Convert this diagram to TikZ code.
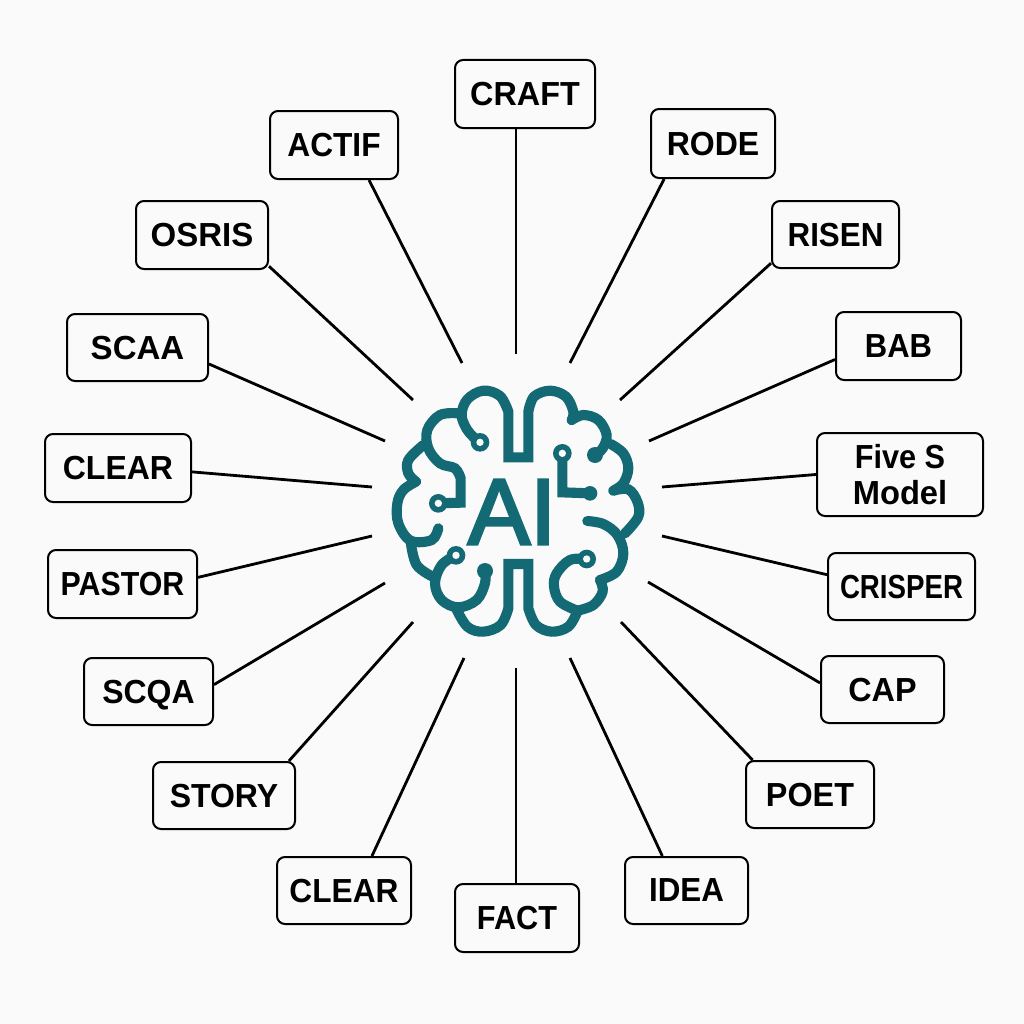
\documentclass[tikz,border=0pt]{standalone}
\usepackage{graphicx}
\usepackage{fontspec}
\setmainfont{Liberation Sans}
\newfontfamily\aifont[FakeBold=3]{Liberation Sans}
\definecolor{bgc}{HTML}{FAFAFA}
\definecolor{teal1}{HTML}{136A75}
\tikzset{
  lab/.style={draw=black,line width=1.5pt,rounded corners=6pt,fill=bgc,inner sep=0pt,align=center,
    font=\fontsize{25}{26.5}\selectfont\bfseries,text=black,anchor=center,text depth=0pt},
  wire/.style={draw=black,line width=2.1pt},
  brainline/.style={draw=teal1,line width=7.6pt,line cap=round,line join=miter},
  ringhole/.style={fill=bgc,draw=none},
  dotfill/.style={fill=teal1,draw=none}
}
\newcommand{\lbox}[7]{\node[lab,minimum width=#3*0.75pt,minimum height=#4*0.75pt] (#5) at (#1,#2) {\scalebox{#7}[1]{#6}};}
\begin{document}
\begin{tikzpicture}[x=0.75pt,y=-0.75pt]
\useasboundingbox (0,0) rectangle (1024,1024);
\fill[bgc] (0,0) rectangle (1024,1024);
% free ends
\foreach \n/\x/\y in {ecraft/516/354,eactif/462/363,erode/570/363,eosris/413/400,erisen/620/400,escaa/385/441,ebab/649/441,eclear/372/487,efive/662/487,epastor/372/536,ecrisper/662/536,escqa/385/583,ecap/648/582,estory/413/622,epoet/621/622,eclearb/464/658,eidea/570/658,efact/516/668}
  {\coordinate (\n) at (\x,\y);}
% boxes
\lbox{525}{94}{140}{68}{craft}{CRAFT}{0.97}
\lbox{334}{145}{128}{68}{actif}{ACTIF}{0.95}
\lbox{713}{143.5}{124}{69}{rode}{RODE}{0.96}
\lbox{202}{235}{132}{68}{osris}{OSRIS}{0.99}
\lbox{835.5}{234.5}{127}{67}{risen}{RISEN}{0.94}
\lbox{137.5}{347.5}{141}{67}{scaa}{SCAA}{0.99}
\lbox{898.5}{346}{125}{68}{bab}{BAB}{0.93}
\lbox{118}{468}{146}{68}{clear}{CLEAR}{0.96}
\node[lab,minimum width=166*0.75pt,minimum height=83*0.75pt] (five) at (900,474.5) {\scalebox{0.92}[1]{Five S}\\\scalebox{0.98}[1]{Model}};
\lbox{122.5}{584}{149}{68}{pastor}{PASTOR}{0.91}
\lbox{901.5}{586.5}{147}{67}{crisper}{CRISPER}{0.83}
\lbox{148.5}{691.5}{129}{67}{scqa}{SCQA}{0.96}
\lbox{882.5}{689.5}{123}{67}{cap}{CAP}{0.97}
\lbox{224}{795.5}{142}{67}{story}{STORY}{0.96}
\lbox{810}{794.5}{128}{67}{poet}{POET}{0.97}
\lbox{344}{890.5}{134}{67}{clearb}{CLEAR}{0.95}
\lbox{686.5}{890.5}{123}{67}{idea}{IDEA}{0.94}
\lbox{517}{918}{124}{68}{fact}{FACT}{0.92}
% connectors
\draw[wire] (ecraft |- craft.south) -- (ecraft);
\draw[wire] (actif.-45.9) -- (eactif);
\draw[wire] (rode.216.3) -- (erode);
\draw[wire] (osris.-25.2) -- (eosris);
\draw[wire] (risen.204.9) -- (erisen);
\draw[wire] (scaa.-13.2) -- (escaa);
\draw[wire] (bab.192.6) -- (ebab);
\draw[wire] (clear.-3.9) -- (eclear);
\draw[wire] (five.180) -- (efive);
\draw[wire] (pastor.5.4) -- (epastor);
\draw[wire] (crisper.171.1) -- (ecrisper);
\draw[wire] (scqa.6.6) -- (escqa);
\draw[wire] (cap.174) -- (ecap);
\draw[wire] (story.28.8) -- (estory);
\draw[wire] (poet.149.1) -- (epoet);
\draw[wire] (clearb.51.1) -- (eclearb);
\draw[wire] (idea.125) -- (eidea);
\draw[wire] (efact |- fact.north) -- (efact);
% brain
\begin{scope}[shift={(380,370)},x=0.25pt,y=-0.25pt]
\draw[brainline] plot[smooth,tension=0.6] coordinates {(292,212)(262,180)(245,135)(262,88)(310,62)(360,78)(385,125)} -- (385,262) -- (445,262) -- plot[smooth,tension=0.6] coordinates {(445,125)(462,80)(510,62)(558,80)(580,125)(575,150)};
\draw[brainline] plot[smooth,tension=0.6] coordinates {(575,150)(610,135)(655,150)(680,195)(668,235)(645,255)};
\draw[brainline] plot[smooth,tension=0.6] coordinates {(692,222)(730,250)(745,295)(730,340)(700,362)};
\draw[brainline] plot[smooth,tension=0.6] coordinates {(700,362)(745,358)(772,395)(775,440)(735,490)};
\draw[brainline] plot[smooth,tension=0.6] coordinates {(622,453)(670,462)(712,495)(730,550)(710,605)(660,630)};
\draw[brainline] plot[smooth,tension=0.6] coordinates {(660,630)(668,665)(640,705)(592,722)};
\draw[brainline] plot[smooth,tension=0.6] coordinates {(620,567)(570,570)(530,610)(522,650)(540,695)(592,722)};
\draw[brainline] plot[smooth,tension=0.6] coordinates {(592,725)(565,770)(515,785)(468,765)(445,715)} -- (445,582) -- (385,582) -- plot[smooth,tension=0.6] coordinates {(385,715)(362,765)(310,785)(262,770)(228,715)};
\draw[brainline] plot[smooth,tension=0.6] coordinates {(228,556)(185,585)(165,640)(185,690)(235,712)(290,690)(315,640)(315,603)};
\draw[brainline] plot[smooth,tension=0.6] coordinates {(162,622)(110,585)(92,515)};
\draw[brainline] plot[smooth,tension=0.6] coordinates {(175,475)(155,510)(92,512)(55,460)(52,400)(70,360)(108,335)};
\draw[brainline] plot[smooth,tension=0.6] coordinates {(108,335)(85,310)(85,270)(130,225)};
\draw[brainline] plot[smooth,tension=0.6] coordinates {(235,130)(180,135)(142,180)(145,235)(180,280)(225,295)(242,325)} -- (242,398) -- (175,400);
\draw[brainline] (547,250) -- (547,367) -- (630,370);
\foreach \x/\y in {300/217,175/400,547/250,228/556,620/567}{
  \fill[dotfill] (\x,\y) circle (28);
  \fill[ringhole] (\x,\y) circle (11);
}
\foreach \x/\y/\r in {645/255/24,630/370/22,315/603/24}{
  \fill[dotfill] (\x,\y) circle (\r);
}
\end{scope}
\node[text=teal1,font=\fontsize{70}{70}\aifont,inner sep=0pt,text depth=0pt] (ai) at (512,512) {AI};
\end{tikzpicture}
\end{document}
